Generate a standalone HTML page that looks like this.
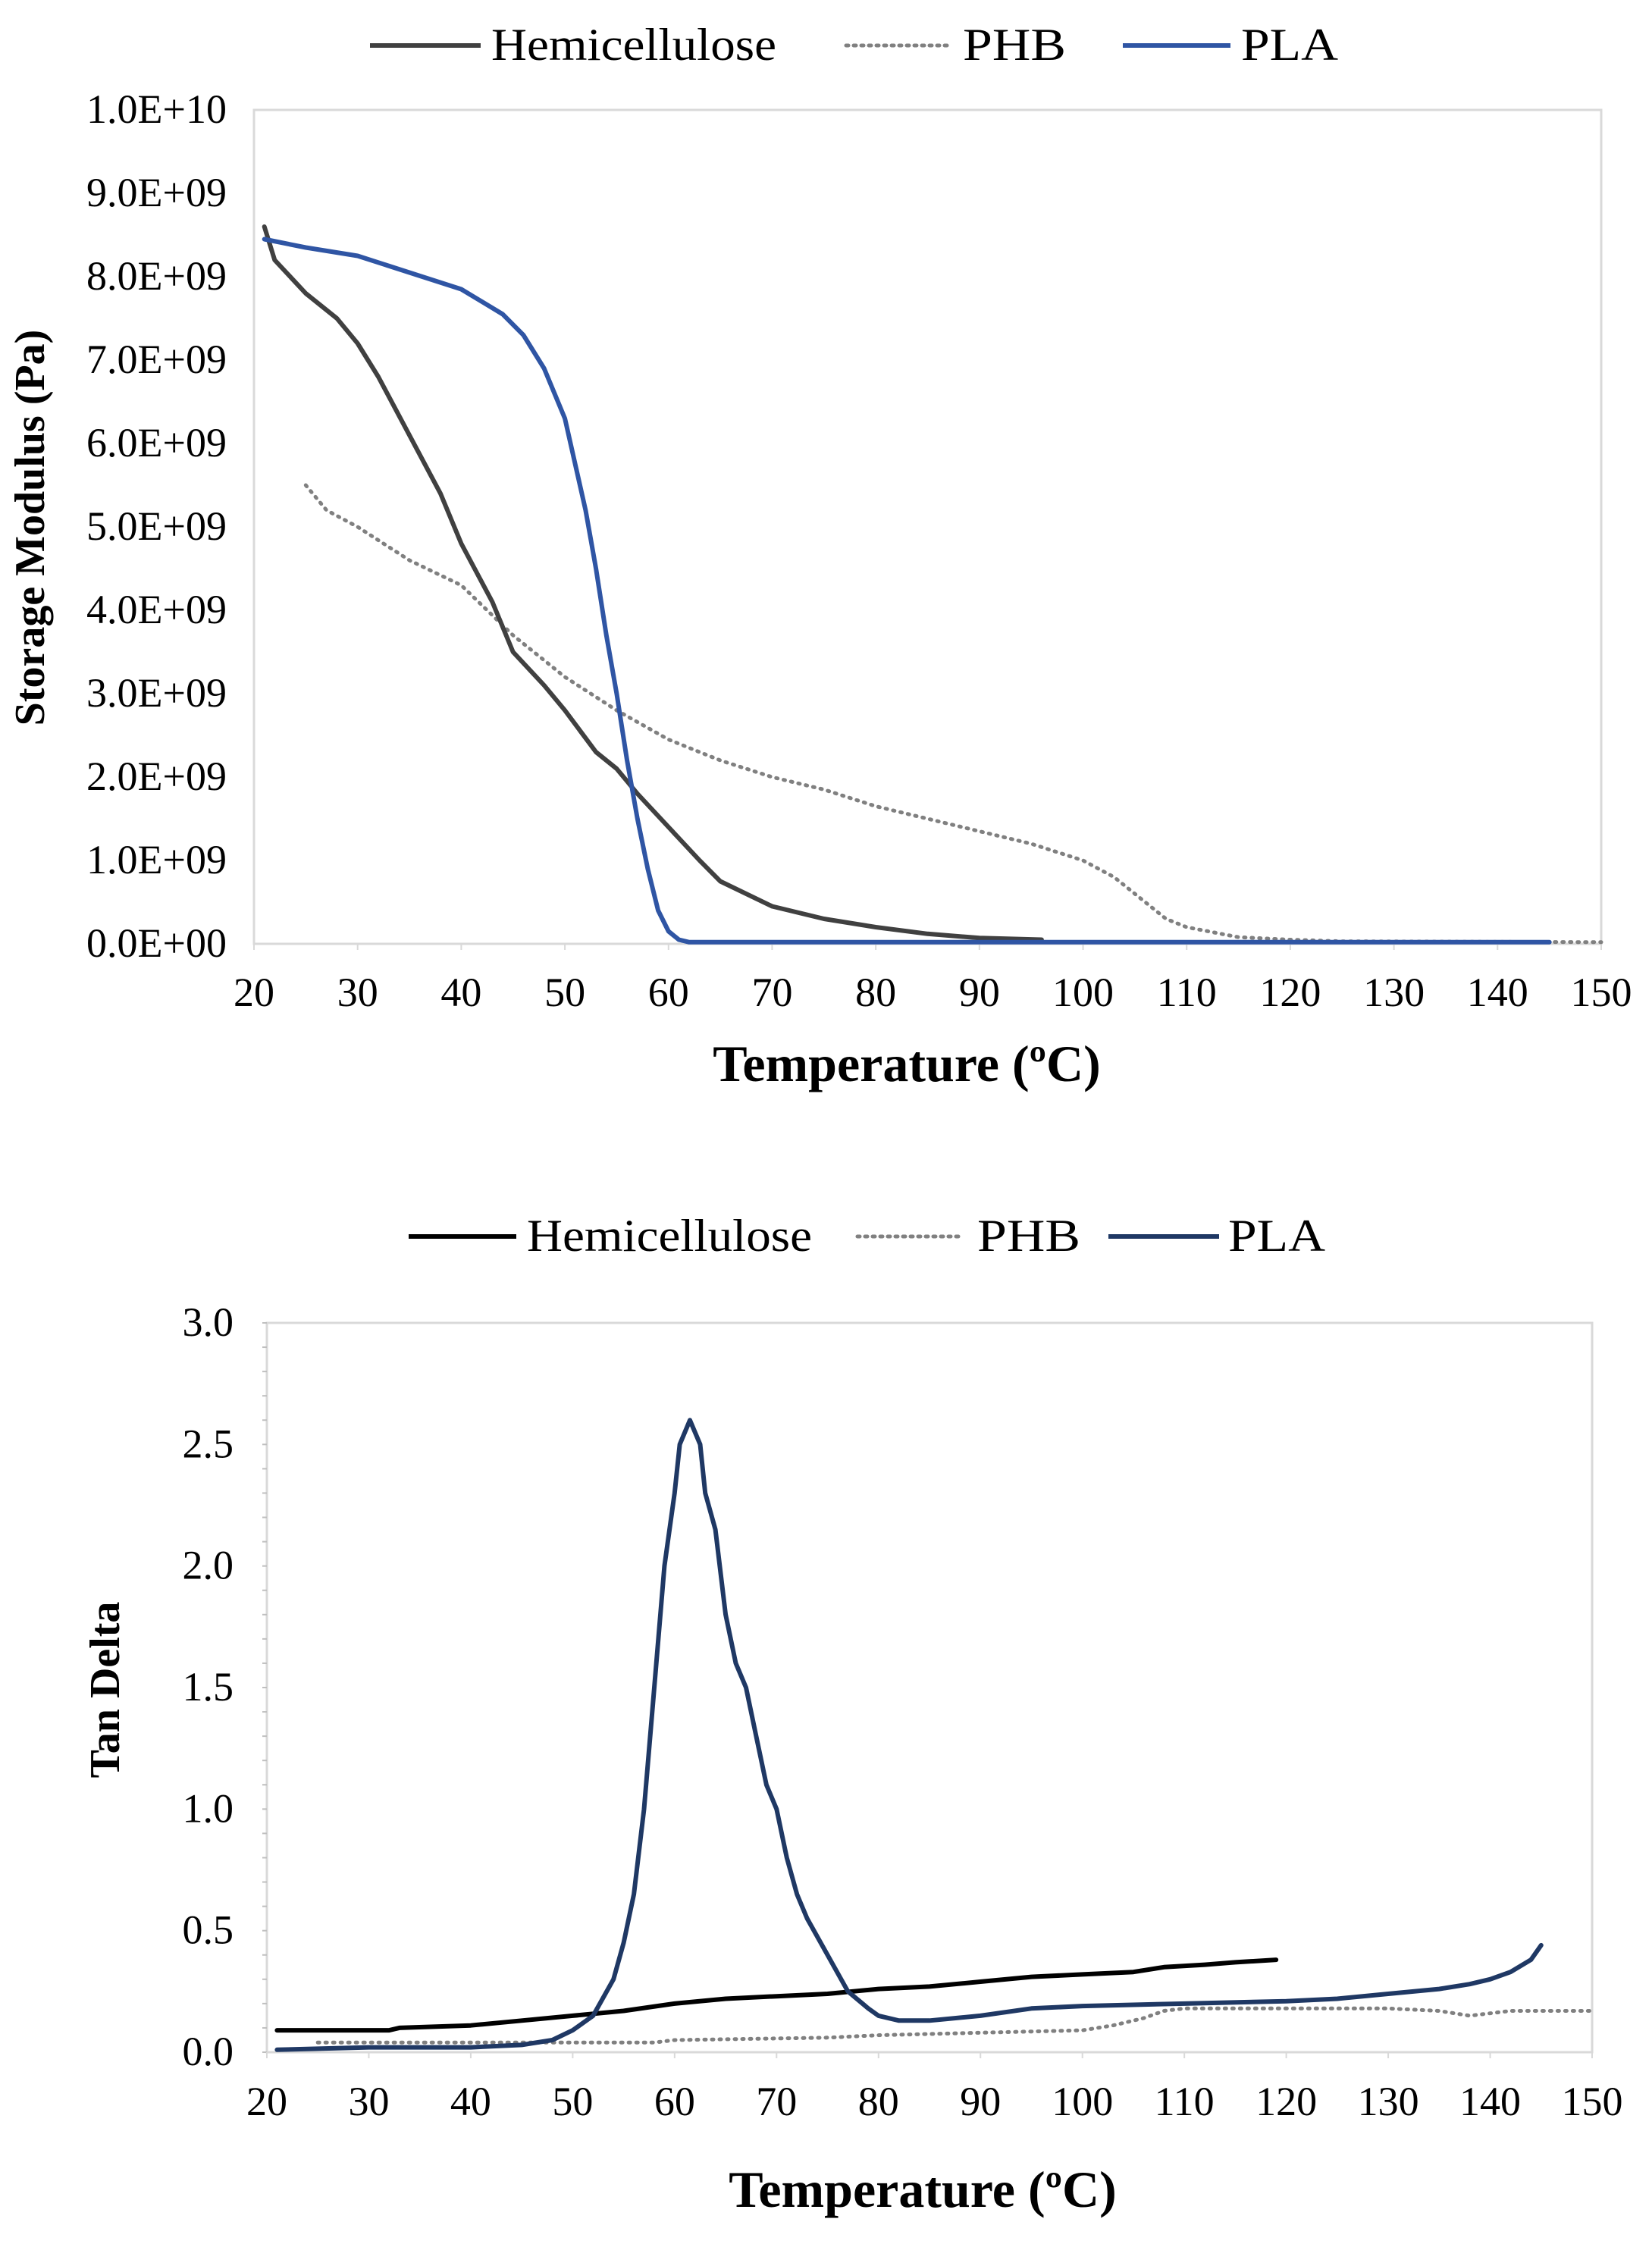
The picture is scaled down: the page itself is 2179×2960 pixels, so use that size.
<!DOCTYPE html>
<html><head><meta charset="utf-8"><style>
html,body{margin:0;padding:0;background:#fff}
svg{display:block}
svg text{font-family:"Liberation Serif","Times New Roman",serif;fill:#000}
</style></head><body>
<svg id="fig" width="2179" height="2960" viewBox="0 0 2179 2960" xmlns="http://www.w3.org/2000/svg" font-family="Liberation Serif, serif">
<rect width="2179" height="2960" fill="#fff"/>
<g>
 <line x1="488" y1="60" x2="634" y2="60" stroke="#404040" stroke-width="6"/>
 <text x="648" y="79" font-size="60" textLength="376" lengthAdjust="spacingAndGlyphs">Hemicellulose</text>
 <line x1="1116" y1="60" x2="1252" y2="60" stroke="#808080" stroke-width="5" stroke-dasharray="3 7" stroke-linecap="round"/>
 <text x="1270" y="79" font-size="60" textLength="136" lengthAdjust="spacingAndGlyphs">PHB</text>
 <line x1="1481" y1="60" x2="1623" y2="60" stroke="#2f55a4" stroke-width="6"/>
 <text x="1637" y="79" font-size="60" textLength="128" lengthAdjust="spacingAndGlyphs">PLA</text>
</g>
<g>
 <line x1="539" y1="1631" x2="681" y2="1631" stroke="#000" stroke-width="6"/>
 <text x="695" y="1650" font-size="60" textLength="376" lengthAdjust="spacingAndGlyphs">Hemicellulose</text>
 <line x1="1131" y1="1631" x2="1271" y2="1631" stroke="#808080" stroke-width="5" stroke-dasharray="3 7" stroke-linecap="round"/>
 <text x="1289" y="1650" font-size="60" textLength="136" lengthAdjust="spacingAndGlyphs">PHB</text>
 <line x1="1462" y1="1631" x2="1608" y2="1631" stroke="#1f3864" stroke-width="6"/>
 <text x="1620" y="1650" font-size="60" textLength="128" lengthAdjust="spacingAndGlyphs">PLA</text>
</g>
<g id="c1"></g>
<g id="c2"></g>
</svg>
<script>
const xTicks = [20,30,40,50,60,70,80,90,100,110,120,130,140,150];
const smTicks = [0,1,2,3,4,5,6,7,8,9,10];
const smTickLabels = ["0.0E+00","1.0E+09","2.0E+09","3.0E+09","4.0E+09","5.0E+09","6.0E+09","7.0E+09","8.0E+09","9.0E+09","1.0E+10"];
const tdTicks = [0,0.5,1,1.5,2,2.5,3];
const tdTickLabels = ["0.0","0.5","1.0","1.5","2.0","2.5","3.0"];
// Storage modulus (units of 1E9 Pa)
const hemiSM_T = [21,22,25,28,30,32,35,38,40,43,45,48,50,53,55,57,60,63,65,70,75,80,85,90,96];
const hemiSM_V = [8.6,8.2,7.8,7.5,7.2,6.8,6.1,5.4,4.8,4.1,3.5,3.1,2.8,2.3,2.1,1.8,1.4,1.0,0.75,0.45,0.3,0.2,0.12,0.07,0.05];
const phbSM_T = [25,27,30,35,40,45,50,55,60,65,70,75,80,85,90,95,100,103,105,108,110,115,120,125,150];
const phbSM_V = [5.5,5.2,5.0,4.6,4.3,3.7,3.2,2.8,2.45,2.2,2.0,1.85,1.65,1.5,1.35,1.2,1.0,0.8,0.6,0.3,0.2,0.08,0.05,0.03,0.02];
const plaSM_T = [21,25,30,35,40,44,46,48,50,52,53,54,55,56,57,58,59,60,61,62,145];
const plaSM_V = [8.45,8.35,8.25,8.05,7.85,7.55,7.3,6.9,6.3,5.2,4.5,3.7,3.0,2.2,1.5,0.9,0.4,0.15,0.05,0.02,0.02];
// Tan delta
const hemiTD_T = [21,32,33,40,45,50,55,60,65,70,75,80,85,90,95,100,105,108,112,115,119];
const hemiTD_V = [0.09,0.09,0.10,0.11,0.13,0.15,0.17,0.20,0.22,0.23,0.24,0.26,0.27,0.29,0.31,0.32,0.33,0.35,0.36,0.37,0.38];
const phbTD_T = [25,40,50,58,60,75,80,90,100,103,106,108,110,130,135,138,140,142,150];
const phbTD_V = [0.04,0.04,0.04,0.04,0.05,0.06,0.07,0.08,0.09,0.11,0.14,0.17,0.18,0.18,0.17,0.15,0.16,0.17,0.17];
const plaTD_T = [21,30,40,45,48,50,52,54,55,56,57,58,59,60,60.5,61.5,62.5,63,64,65,66,67,68,69,70,71,72,73,75,77,79,80,82,85,90,95,100,110,120,125,130,135,138,140,142,144,145];
const plaTD_V = [0.01,0.02,0.02,0.03,0.05,0.09,0.15,0.3,0.45,0.65,1.0,1.5,2.0,2.3,2.5,2.6,2.5,2.3,2.15,1.8,1.6,1.5,1.3,1.1,1.0,0.8,0.65,0.55,0.4,0.25,0.18,0.15,0.13,0.13,0.15,0.18,0.19,0.2,0.21,0.22,0.24,0.26,0.28,0.3,0.33,0.38,0.44];

const NS="http://www.w3.org/2000/svg";
function mk(tag,attrs,parent){const e=document.createElementNS(NS,tag);for(const k in attrs)e.setAttribute(k,attrs[k]);parent.appendChild(e);return e;}

function drawChart(g,L,R,T,B,ymax,yTicks,yLabels,yLabelX,xLabelY,minor,series,yTitle,yTitleX,yTitleY,yTitleSize,xTitleX,xTitleY){
  const sx=v=>L+(v-20)/(150-20)*(R-L);
  const sy=v=>B-v/ymax*(B-T);
  const frame=mk('rect',{x:L,y:T,width:R-L,height:B-T,fill:'none',stroke:'#d9d9d9','stroke-width':3},g);
  
  
  if(minor){
    for(let v=0;v<=ymax+1e-9;v+=0.1){
      const t=mk('line',{x1:L-6,x2:L,y1:sy(v),y2:sy(v),stroke:'#bfbfbf','stroke-width':2},g);
      
      
    }
  }
  yTicks.forEach((v,i)=>{
    const t=mk('text',{x:yLabelX,y:sy(v)+17,'font-size':54,'text-anchor':'end'},g);
    t.textContent=yLabels[i];
    
    
  });
  xTicks.forEach(v=>{
    const t=mk('text',{x:sx(v),y:xLabelY,'font-size':54,'text-anchor':'middle'},g);
    t.textContent=v;
    
    
    const tk=mk('line',{x1:sx(v),x2:sx(v),y1:B,y2:B+8,stroke:'#d9d9d9','stroke-width':2},g);
    
    
  });
  series.forEach(s=>{
    const d=s.t.map((t,i)=>(i?'L':'M')+sx(t).toFixed(1)+','+sy(s.v[i]).toFixed(1)).join(' ');
    const p=mk('path',{d:d,fill:'none',stroke:s.c,'stroke-width':s.w,'stroke-linejoin':'round','stroke-linecap':'round'},g);
    if(s.dash)p.setAttribute('stroke-dasharray',s.dash);
    
    
  });
  const yt=mk('text',{x:0,y:0,'font-size':yTitleSize,'font-weight':'bold','text-anchor':'middle',transform:`translate(${yTitleX},${yTitleY}) rotate(-90)`},g);
  yt.textContent=yTitle;
  
  
  const xt=mk('text',{x:xTitleX,y:xTitleY,'font-size':68,'font-weight':'bold','text-anchor':'middle'},g);
  xt.textContent='Temperature (ºC)';
  
  
}
drawChart(document.getElementById('c1'),335,2112,145,1245,10,smTicks,smTickLabels,299,1327,false,[
  {t:phbSM_T,v:phbSM_V,c:'#808080',w:5,dash:'2 8',name:'phb-storage-line'},
  {t:hemiSM_T,v:hemiSM_V,c:'#404040',w:6,name:'hemicellulose-storage-line'},
  {t:plaSM_T,v:plaSM_V,c:'#2f55a4',w:6,name:'pla-storage-line'}
],'Storage Modulus (Pa)',58,696,56,1196,1426);
drawChart(document.getElementById('c2'),352,2100,1745,2707,3,tdTicks,tdTickLabels,308,2790,true,[
  {t:phbTD_T,v:phbTD_V,c:'#808080',w:5,dash:'2 8',name:'phb-tandelta-line'},
  {t:hemiTD_T,v:hemiTD_V,c:'#000000',w:6,name:'hemicellulose-tandelta-line'},
  {t:plaTD_T,v:plaTD_V,c:'#1f3864',w:6,name:'pla-tandelta-line'}
],'Tan Delta',157,2229,56,1217,2911);
</script>
</body></html>
